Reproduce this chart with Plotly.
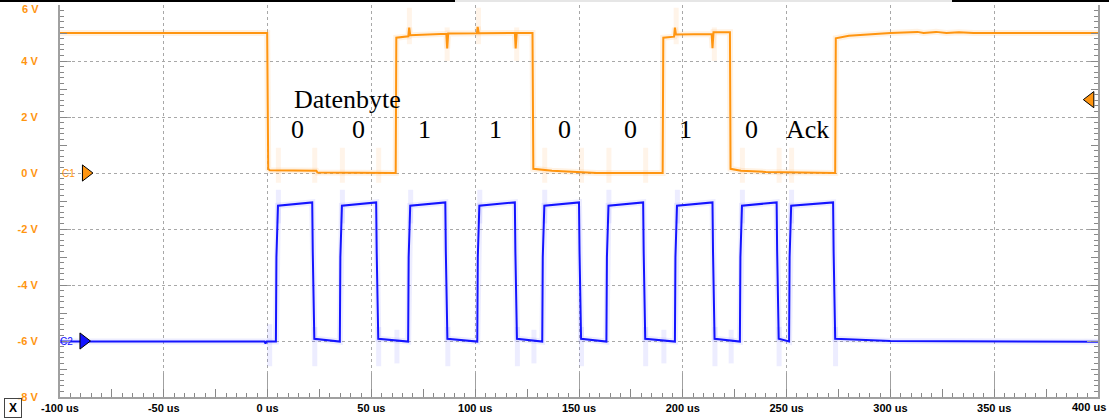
import plotly.graph_objects as go

# ---------------- data ----------------
# Channel C1 (orange): time in us, voltage in V
c1_t = [-100, -0.2, 0.3, 1.0, 23.5, 24.0, 61.7, 62.0, 67.8, 68.2, 68.7, 86.1, 86.5, 87.0,
        100.8, 101.2, 101.7, 119.1, 119.5, 120.0, 127.6, 128.0, 137.0, 158.6, 190.3, 190.6,
        195.8, 196.2, 196.7, 213.9, 214.3, 214.8, 222.7, 223.0, 228.0, 240.0, 273.4, 273.7,
        280.0, 290.0, 300.0, 313.0, 316.0, 322.0, 327.0, 333.0, 340.0, 400.0]
c1_v = [5.0, 5.0, 0.15, 0.10, 0.08, 0.02, 0.0, 4.83, 4.88, 5.19, 4.92, 4.97, 4.45, 4.98,
        4.99, 5.22, 4.99, 5.0, 4.45, 5.0, 5.0, 0.15, 0.08, 0.0, 0.0, 4.83,
        4.87, 5.19, 4.95, 4.96, 4.46, 5.03, 5.03, 0.15, 0.08, 0.04, 0.0, 4.81,
        4.90, 4.96, 5.0, 5.04, 5.0, 5.04, 5.0, 5.03, 5.0, 5.0]

# Channel C2 (blue): clock pulses, rising / falling edge times in us
c2_rise = [4.0, 34.8, 67.7, 101.0, 132.3, 163.2, 196.2, 227.5, 251.2]
c2_fall = [21.5, 52.3, 85.6, 119.1, 150.0, 180.9, 214.3, 245.2, 272.4]
c2_low_start = -5.92   # just after a falling edge
c2_low_end = -6.02     # just before a rising edge
c2_high_start = -1.17
c2_high_end = -1.05
c2_tail_t = [300.0, 400.0]
c2_tail_v = [-6.0, -6.03]

# faint "persistence" ghosts: (time, v_from, v_to)
c2_ghosts = [(1.0, -6.9, -5.4)] + [(r + 1.2, -1.8, -0.6) for r in c2_rise] + \
            [(f + 1.2, -6.9, -5.5) for f in c2_fall] + \
            [(62.3, -6.8, -5.6), (128.3, -6.8, -5.6), (190.9, -6.8, -5.6), (223.3, -6.8, -5.6)]
c1_low_edges = [4.0, 21.5, 34.8, 52.3, 132.3, 150.0, 163.2, 180.9, 227.5, 245.2, 251.2]
c1_high_rise_edges = [67.7, 101.0, 196.2]
c1_high_fall_edges = [85.6, 119.1, 214.3]

# annotation texts
title_text = "Datenbyte"
title_t, title_v = 11.8, 2.64
bit_labels = ["0", "0", "1", "1", "0", "0", "1", "0", "Ack"]
bit_t = [14.6, 44.0, 75.8, 110.0, 143.2, 175.0, 201.5, 233.3, 260.2]
bit_v = 1.57

# axis ticks
x_tick_vals = [-100, -50, 0, 50, 100, 150, 200, 250, 300, 350, 400]
x_tick_text = ["-100 us", "-50 us", "0 us", "50 us", "100 us", "150 us", "200 us",
               "250 us", "300 us", "350 us", ""]
x_last_label = "400 us"
y_tick_vals = [6, 4, 2, 0, -2, -4, -6, -8]
y_tick_text = ["", "4 V", "2 V", "0 V", "-2 V", "-4 V", "-6 V", "-8 V"]
y_top_label = "6 V"

# channel reference markers
c1_offset_v = 0.0
c2_offset_v = -6.0
trigger_v = 2.62

# ---------------- build C2 path ----------------
c2_t = [-100.0, -1.5, -1.0, -0.5]
c2_v = [-6.02, -6.02, -6.09, -6.02]
for r, f in zip(c2_rise, c2_fall):
    c2_t += [r, r + 0.25, r + 1.0, f, f + 0.25, f + 1.0]
    c2_v += [c2_low_end, -3.0, c2_high_start, c2_high_end, -2.8, c2_low_start]
c2_t += c2_tail_t
c2_v += c2_tail_v

ORANGE = "#ff9510"
BLUE = "#1414ff"
GRID = "#a8a8a8"
AXIS = "#a0a0a0"


def ghost_xy(segs):
    xs, ys = [], []
    for t, a, b in segs:
        xs += [t, t, None]
        ys += [a, b, None]
    return xs, ys


c1_ghosts = [(t + 1.2, -0.35, 0.9) for t in c1_low_edges] + \
            [(t + 0.6, 4.6, 5.9) for t in c1_high_rise_edges] + \
            [(t + 0.9, 4.0, 5.2) for t in c1_high_fall_edges]

fig = go.Figure()

gx, gy = ghost_xy(c2_ghosts)
fig.add_trace(go.Scatter(x=gx, y=gy, mode="lines", line=dict(color="rgba(110,110,255,0.12)", width=5),
                         hoverinfo="skip", showlegend=False))
gx, gy = ghost_xy(c1_ghosts)
fig.add_trace(go.Scatter(x=gx, y=gy, mode="lines", line=dict(color="rgba(255,165,70,0.12)", width=5),
                         hoverinfo="skip", showlegend=False))

# halos
fig.add_trace(go.Scatter(x=c1_t, y=c1_v, mode="lines", line=dict(color="rgba(255,160,60,0.14)", width=6),
                         hoverinfo="skip", showlegend=False))
fig.add_trace(go.Scatter(x=c2_t, y=c2_v, mode="lines", line=dict(color="rgba(90,90,255,0.11)", width=6),
                         hoverinfo="skip", showlegend=False))

# main traces
fig.add_trace(go.Scatter(x=c1_t, y=c1_v, mode="lines", name="C1", line=dict(color=ORANGE, width=2),
                         showlegend=False))
fig.add_trace(go.Scatter(x=c2_t, y=c2_v, mode="lines", name="C2", line=dict(color=BLUE, width=2),
                         showlegend=False))

# channel markers
fig.add_trace(go.Scatter(x=[-87.5], y=[c1_offset_v], mode="markers", cliponaxis=False,
                         marker=dict(symbol="triangle-right", size=14, color=ORANGE,
                                     line=dict(color="black", width=1)),
                         hoverinfo="skip", showlegend=False))
fig.add_trace(go.Scatter(x=[-88.7], y=[c2_offset_v], mode="markers", cliponaxis=False,
                         marker=dict(symbol="triangle-right", size=14, color=BLUE,
                                     line=dict(color="black", width=1)),
                         hoverinfo="skip", showlegend=False))
fig.add_trace(go.Scatter(x=[396.3], y=[trigger_v], mode="markers", cliponaxis=False,
                         marker=dict(symbol="triangle-left", size=14, color=ORANGE,
                                     line=dict(color="black", width=1)),
                         hoverinfo="skip", showlegend=False))

# helper trace for medium tick axes
fig.add_trace(go.Scatter(x=[None], y=[None], xaxis="x2", yaxis="y2", showlegend=False, hoverinfo="skip"))

annotations = [dict(x=title_t, y=title_v, xref="x", yref="y", text=title_text, showarrow=False,
                    xanchor="left", yanchor="middle",
                    font=dict(family="Liberation Serif", size=26, color="black"))]
for lab, t in zip(bit_labels, bit_t):
    annotations.append(dict(x=t, y=bit_v, xref="x", yref="y", text=lab, showarrow=False,
                            xanchor="center", yanchor="middle",
                            font=dict(family="Liberation Serif", size=26, color="black")))
annotations += [
    dict(x=(68.5 - 60) / 1038, y=c1_offset_v, xref="paper", yref="y", text="C1", showarrow=False,
         xanchor="center", yanchor="middle", font=dict(family="Arial", size=10, color=ORANGE)),
    dict(x=(66.5 - 60) / 1038, y=c2_offset_v, xref="paper", yref="y", text="C2", showarrow=False,
         xanchor="center", yanchor="middle", font=dict(family="Arial", size=10, color=BLUE)),
    dict(x=(13 - 60) / 1038, y=(397 - 408) / 392, xref="paper", yref="paper", text="<b>X</b>",
         showarrow=False, xanchor="center", yanchor="middle",
         font=dict(family="Arial", size=12, color="black"),
         bordercolor="#444", borderwidth=1, borderpad=2, width=12, height=14),
    dict(x=(1108 - 60) / 1038, y=(397 - 407) / 392, xref="paper", yref="paper", text=x_last_label,
         showarrow=False, xanchor="right", yanchor="middle",
         font=dict(family="Arial", size=11, color="black", weight="bold")),
    dict(x=(41 - 60) / 1038, y=(397 - 9) / 392, xref="paper", yref="paper", text=y_top_label,
         showarrow=False, xanchor="right", yanchor="middle",
         font=dict(family="Arial", size=11, color=ORANGE, weight="bold")),
]

shapes = [
    dict(type="line", xref="paper", yref="paper", x0=-60 / 1038, x1=(455 - 60) / 1038,
         y0=1 + 4 / 392, y1=1 + 4 / 392, line=dict(color="black", width=2)),
    dict(type="line", xref="paper", yref="paper", x0=(455 - 60) / 1038, x1=(952 - 60) / 1038,
         y0=1 + 4 / 392, y1=1 + 4 / 392, line=dict(color="#e6e6e6", width=2)),
    dict(type="line", xref="paper", yref="paper", x0=(952 - 60) / 1038, x1=(1109 - 60) / 1038,
         y0=1 + 4 / 392, y1=1 + 4 / 392, line=dict(color="black", width=2)),
]

fig.update_layout(
    width=1109, height=419,
    margin=dict(l=60, r=11, t=5, b=22),
    paper_bgcolor="white", plot_bgcolor="white",
    showlegend=False,
    annotations=annotations,
    shapes=shapes,
    xaxis=dict(range=[-100, 400], tickmode="array", tickvals=x_tick_vals, ticktext=x_tick_text,
               showgrid=True, gridcolor=GRID, griddash="dot", gridwidth=1,
               showline=True, linecolor=AXIS, linewidth=2, mirror=False,
               ticks="inside", ticklen=24, tickcolor=AXIS, tickwidth=1,
               minor=dict(tickmode="linear", tick0=0, dtick=5, ticks="inside", ticklen=4,
                          tickcolor="#888", showgrid=False),
               zeroline=False, tickfont=dict(family="Arial", size=11, color="black", weight="bold")),
    yaxis=dict(range=[-8, 6], tickmode="array", tickvals=y_tick_vals, ticktext=y_tick_text,
               showgrid=True, gridcolor=GRID, griddash="dot", gridwidth=1,
               showline=True, linecolor=AXIS, linewidth=2, mirror="ticks",
               ticks="inside", ticklen=11, tickcolor=AXIS, tickwidth=1,
               minor=dict(tickmode="linear", tick0=0, dtick=0.2, ticks="inside", ticklen=4,
                          tickcolor="#888", showgrid=False),
               ticklabelstandoff=18,
               zeroline=False, tickfont=dict(family="Arial", size=11, color=ORANGE, weight="bold")),
    xaxis2=dict(range=[-100, 400], overlaying="x", anchor="y", side="bottom",
                tickmode="linear", tick0=0, dtick=25, ticks="inside", ticklen=8,
                tickcolor="#888", showticklabels=False, showgrid=False, showline=False,
                zeroline=False),
    yaxis2=dict(range=[-8, 6], overlaying="y", anchor="x", side="left",
                tickmode="linear", tick0=0, dtick=1, ticks="inside", ticklen=7, mirror="ticks",
                tickcolor="#888", showticklabels=False, showgrid=False, showline=False,
                zeroline=False),
)

fig.write_html("out.html", config={"displayModeBar": False},
               post_script="document.body.style.margin='0';document.body.style.overflow='hidden';")
